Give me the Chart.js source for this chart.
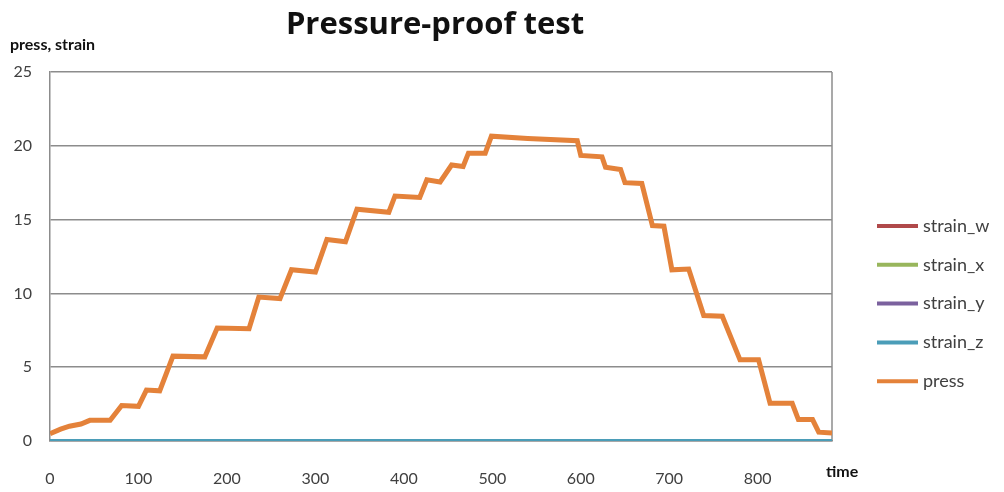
<!DOCTYPE html>
<html>
<head>
<meta charset="utf-8">
<script src="https://cdn.jsdelivr.net/npm/chart.js@4"></script>
<style>
  html, body { margin: 0; padding: 0; background: #fff; }
  #wrap { width: 1004px; height: 492px; }
</style>
</head>
<body>
<div id="wrap"><canvas id="pressChart"></canvas></div>
<script>
// press readings (time, value)
var pressTime = [0, 12, 22, 35, 45, 68, 81, 100, 109, 124, 139, 175, 189, 225, 236, 260, 273, 300,
  313, 334, 347, 383, 390, 418, 426, 441, 454, 467, 473, 492, 499, 540, 596, 600, 624, 628, 645,
  650, 669, 681, 694, 703, 722, 739, 760, 780, 801, 814, 839, 846, 862, 869, 884];
var pressValue = [0.5, 0.8, 1.0, 1.15, 1.4, 1.4, 2.4, 2.35, 3.45, 3.4, 5.75, 5.7, 7.65, 7.6, 9.75, 9.65, 11.6, 11.45,
  13.65, 13.5, 15.7, 15.5, 16.6, 16.5, 17.7, 17.55, 18.7, 18.6, 19.5, 19.5, 20.65, 20.5, 20.35, 19.35, 19.25, 18.55, 18.4,
  17.5, 17.45, 14.6, 14.55, 11.6, 11.65, 8.5, 8.45, 5.5, 5.5, 2.55, 2.55, 1.45, 1.45, 0.6, 0.55];

// strains stay on zero for the whole run
var strainTime = [0, 884];
var strainW = [0, 0];
var strainX = [0, 0];
var strainY = [0, 0];
var strainZ = [0, 0];

var yTicks = [0, 5, 10, 15, 20, 25];
var xTicks = [0, 100, 200, 300, 400, 500, 600, 700, 800];

function toPoints(xs, ys) {
  return xs.map(function (x, i) { return { x: x, y: ys[i] }; });
}

function series(label, xs, ys, color, width, order) {
  return {
    label: label,
    data: toPoints(xs, ys),
    borderColor: color,
    backgroundColor: color,
    borderWidth: width,
    pointRadius: 0,
    tension: 0,
    order: order
  };
}

var fontFamily = "Lato, 'Liberation Sans', sans-serif";
var textColor = "#404040";
var gridColor = "#8c8c8c";

// titles, right border and the legend on the right
var decorations = {
  id: "decorations",
  beforeDatasetsDraw: function (chart) {
    var ctx = chart.ctx, a = chart.chartArea;
    ctx.save();
    ctx.strokeStyle = gridColor;
    ctx.lineWidth = 1.5;
    ctx.beginPath();
    ctx.moveTo(a.right, a.top);
    ctx.lineTo(a.right, a.bottom);
    ctx.stroke();
    ctx.restore();
  },
  afterDraw: function (chart) {
    var ctx = chart.ctx;
    ctx.save();
    ctx.fillStyle = "#111";
    ctx.textBaseline = "alphabetic";
    ctx.textAlign = "center";
    ctx.font = "bold 31px 'Open Sans', " + fontFamily;
    ctx.fillText("Pressure-proof test", 435, 34);

    ctx.textAlign = "left";
    ctx.font = "bold 16px " + fontFamily;
    ctx.fillText("press, strain", 10, 50);
    ctx.fillText("time", 826, 477);

    ctx.font = "18px " + fontFamily;
    ctx.textBaseline = "middle";
    chart.data.datasets.forEach(function (ds, i) {
      var y = 226 + i * 38.8;
      ctx.strokeStyle = ds.borderColor;
      ctx.lineWidth = 4;
      ctx.beginPath();
      ctx.moveTo(877, y);
      ctx.lineTo(918, y);
      ctx.stroke();
      ctx.fillStyle = textColor;
      ctx.fillText(ds.label, 923, y);
    });
    ctx.restore();
  }
};

new Chart(document.getElementById("pressChart"), {
  type: "line",
  data: {
    datasets: [
      series("strain_w", strainTime, strainW, "#b0494a", 4, 5),
      series("strain_x", strainTime, strainX, "#98b65c", 4, 4),
      series("strain_y", strainTime, strainY, "#7b619e", 4, 3),
      series("strain_z", strainTime, strainZ, "#4b9db8", 4, 2),
      series("press", pressTime, pressValue, "#e4823a", 5, 1)
    ]
  },
  options: {
    responsive: true,
    maintainAspectRatio: false,
    animation: false,
    layout: { padding: { top: 72, right: 172, bottom: 0, left: 0 } },
    plugins: {
      legend: { display: false },
      title: { display: false },
      tooltip: { enabled: false }
    },
    scales: {
      x: {
        type: "linear",
        min: 0,
        max: 884,
        afterBuildTicks: function (scale) {
          scale.ticks = xTicks.map(function (v) { return { value: v }; });
        },
        afterFit: function (scale) { scale.height = 51; },
        grid: { display: false, drawTicks: false },
        border: { color: gridColor, width: 1.5 },
        ticks: {
          padding: 28,
          maxRotation: 0,
          color: textColor,
          font: { family: fontFamily, size: 16 }
        }
      },
      y: {
        min: 0,
        max: 25,
        afterBuildTicks: function (scale) {
          scale.ticks = yTicks.map(function (v) { return { value: v }; });
        },
        afterFit: function (scale) { scale.width = 50; },
        grid: { color: gridColor, lineWidth: 1.5, drawTicks: false },
        border: { color: gridColor, width: 1.5 },
        ticks: {
          padding: 18,
          color: textColor,
          font: { family: fontFamily, size: 16 }
        }
      }
    }
  },
  plugins: [decorations]
});
</script>
</body>
</html>
